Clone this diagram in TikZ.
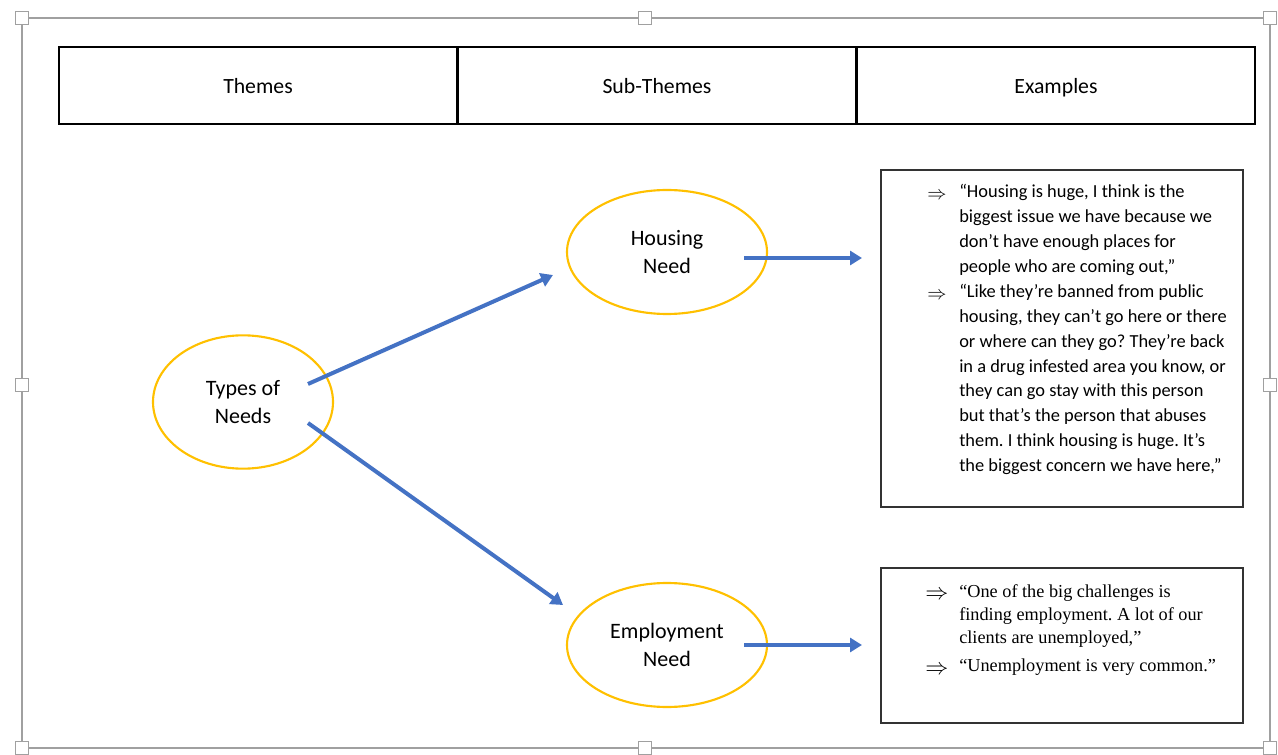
\documentclass[tikz,border=0pt]{standalone}
\usepackage{fontspec}
\setmainfont{Carlito}
\newfontfamily\timesfont{Liberation Serif}
\usetikzlibrary{arrows.meta,shapes.geometric}
\definecolor{arrowblue}{HTML}{4472C4}
\definecolor{ringgold}{HTML}{FFC000}
\definecolor{framegray}{HTML}{A0A0A0}
\frenchspacing
\begin{document}
\begin{tikzpicture}[x=0.75pt,y=-0.75pt,
  handle/.style={draw=framegray,fill=white,line width=0.9pt,minimum size=10pt,inner sep=0pt},
  headcell/.style={draw=black,line width=1.4pt,minimum width=298.5pt,minimum height=57.75pt,inner sep=0pt},
  headtext/.style={inner sep=0pt,anchor=base,font=\fontsize{16.3}{19}\selectfont},
  theme/.style={draw=ringgold,line width=1.6pt,ellipse,minimum width=135pt,minimum height=100pt,align=center,font=\fontsize{16.5}{21}\selectfont},
  subtheme/.style={theme,minimum width=150pt,minimum height=93pt},
  quotebox/.style={draw=black!80,line width=1pt,inner sep=0pt},
  blue arrow/.style={draw=arrowblue,line width=3pt,-{Triangle[length=9pt,width=10.5pt]}},
  quote/.style={anchor=north west,inner sep=0pt,align=left},
  implies/.style={anchor=base,inner sep=0pt}
]
\useasboundingbox (0,0) rectangle (1278,755);
% selection frame
\draw[framegray,line width=1.1pt] (22,18) rectangle (1270,748);
\foreach \x/\y/\n in {22/18/h1,645/18/h2,1270/18/h3,22/385/h4,1270/385/h5,22/748/h6,645/748/h7,1270/748/h8}
  \node[handle] (\n) at (\x,\y) {};
% header
\node[headcell] (c1) at (258,85.5) {};
\node[headcell] (c2) at (657,85.5) {};
\node[headcell] (c3) at (1056,85.5) {};
\node[headtext] (t1) at (258,94) {Themes};
\node[headtext] (t2) at (657,94) {Sub-Themes};
\node[headtext] (t3) at (1056,94) {Examples};
% ellipses
\node[theme] (types) at (243,402) {Types of\\Needs};
\node[subtheme] (housing) at (667,252) {Housing\\Need};
\node[subtheme] (employ) at (667,645) {Employment\\Need};
% quote boxes
\node[quotebox,minimum width=271.5pt,minimum height=252.75pt] (hbox) at (1062,338.5) {};
\node[quotebox,minimum width=271.5pt,minimum height=116.25pt] (ebox) at (1062,645.5) {};
% housing quotes
\begin{scope}[font=\fontsize{13.8}{18.7}\selectfont]
\node[implies] (i1) at (937,200) {$\Rightarrow$};
\node[quote] (q1) at (959,184) {“Housing is huge, I think is the\\biggest issue we have because we\\don’t have enough places for\\people who are coming out,”};
\node[implies] (i2) at (937,299.7) {$\Rightarrow$};
\node[quote] (q2) at (959,283.7) {“Like they’re banned from public\\housing, they can’t go here or there\\or where can they go? They’re back\\in a drug infested area you know, or\\they can go stay with this person\\but that’s the person that abuses\\them. I think housing is huge. It’s\\the biggest concern we have here,”};
\end{scope}
% employment quotes
\begin{scope}[font=\timesfont\fontsize{13.7}{17.25}\selectfont]
\node[implies,scale=1.2] (i3) at (937,599) {$\Rightarrow$};
\node[quote] (q3) at (959,584) {“One of the big challenges is\\finding employment. A lot of our\\clients are unemployed,”};
\node[implies,scale=1.2] (i4) at (937,674) {$\Rightarrow$};
\node[quote] (q4) at (959,659) {“Unemployment is very common.”};
\end{scope}
% arrows
\coordinate (a1s) at (308,384);
\coordinate (a1e) at (553,275);
\coordinate (a2s) at (308,423);
\coordinate (a2e) at (563,605);
\coordinate (a3s) at (744,258);
\coordinate (a3e) at (862,258);
\coordinate (a4s) at (744,645);
\coordinate (a4e) at (862,645);
\draw[blue arrow] (a1s) -- (a1e);
\draw[blue arrow] (a2s) -- (a2e);
\draw[blue arrow] (a3s) -- (a3e);
\draw[blue arrow] (a4s) -- (a4e);
\end{tikzpicture}
\end{document}
